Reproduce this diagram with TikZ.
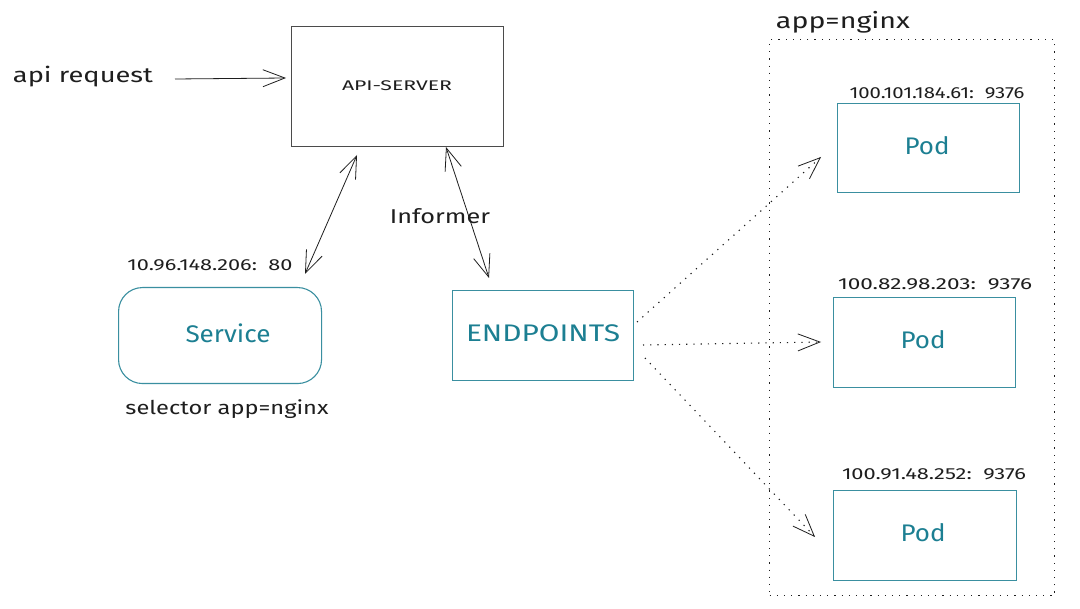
\documentclass[tikz,border=0pt]{standalone}
\usepackage{fontspec}
\setmainfont{Fira Sans}
\usetikzlibrary{arrows.meta}
\definecolor{teal1}{HTML}{1C7F92}
\definecolor{teal2}{HTML}{3A8FA0}
\definecolor{ink}{HTML}{1E1E1E}
\newcommand\sw[2]{\resizebox{#1}{\height}{#2}}
\tikzset{
  lbl/.style={text=ink, inner sep=0pt, anchor=center},
  gbox/.style={draw=ink!80, line width=0.8pt},
  tbox/.style={draw=teal2, line width=1.1pt},
  ttxt/.style={text=teal1, inner sep=0pt, anchor=center, font=\fontsize{24}{28}\selectfont},
  ip/.style={lbl, font=\fontsize{16}{18}\selectfont},
  barb/.style={-{Straight Barb[length=22pt,width=17pt,line width=0.8pt]}},
  bbarb/.style={{Straight Barb[length=22pt,width=17pt,line width=0.8pt]}-{Straight Barb[length=22pt,width=17pt,line width=0.8pt]}},
  dotline/.style={dash pattern=on 1.2pt off 6pt, line width=1.1pt, draw=ink},
}
\begin{document}
\begin{tikzpicture}[x=1pt,y=-1pt]
\useasboundingbox (0,0) rectangle (1080,609);
\fill[white] (0,0) rectangle (1080,609);

% API server
\node[gbox, minimum width=212pt, minimum height=120pt, anchor=north west] (api) at (291,26) {};
\node[lbl, font=\fontsize{14}{16}\selectfont] (apit) at (397,86) {\sw{110pt}{API-SERVER}};

% api request
\node[lbl, font=\fontsize{21}{25}\selectfont] (req) at (83,77) {\sw{140pt}{api request}};
\coordinate (reqs) at (175,79);
\coordinate (reqe) at (286,78);
\draw[barb, ink, line width=0.8pt] (reqs) -- (reqe);

% Service
\node[tbox, rounded corners=24pt, minimum width=203pt, minimum height=96pt, anchor=north west] (svc) at (118,287) {};
\node[ttxt] (svct) at (228,333) {\sw{85pt}{Service}};
\node[ip] (svcip) at (210,265) {\sw{165pt}{10.96.148.206:\ \ 80}};
\node[lbl, font=\fontsize{19}{22}\selectfont] (sel) at (227,409) {\sw{203pt}{selector app=nginx}};

% Endpoints
\node[tbox, minimum width=181pt, minimum height=90pt, anchor=north west] (ep) at (452,290) {};
\node[ttxt] (ept) at (543,333) {\sw{154pt}{ENDPOINTS}};

% double arrows
\coordinate (a1t) at (357,155);
\coordinate (a1b) at (305,274);
\draw[bbarb, ink, line width=0.8pt] (a1b) -- (a1t);
\coordinate (a2t) at (446,147);
\coordinate (a2b) at (489,278);
\draw[bbarb, ink, line width=0.8pt] (a2t) -- (a2b);
\node[lbl, font=\fontsize{20}{23}\selectfont] (inf) at (440,216) {\sw{100pt}{Informer}};

% group
\node[dotline, draw, minimum width=285pt, minimum height=556pt, anchor=north west] (grp) at (769,39) {};
\node[lbl, font=\fontsize{22}{26}\selectfont] (grpt) at (843,22) {\sw{134pt}{app=nginx}};

% pods
\node[tbox, minimum width=182pt, minimum height=89pt, anchor=north west] (p1) at (837,103) {};
\node[ttxt] (p1t) at (927,146) {\sw{45pt}{Pod}};
\node[ip] (p1ip) at (937,93) {\sw{175pt}{100.101.184.61:\ \ 9376}};

\node[tbox, minimum width=182pt, minimum height=90pt, anchor=north west] (p2) at (833,297) {};
\node[ttxt] (p2t) at (923,340) {\sw{45pt}{Pod}};
\node[ip] (p2ip) at (935,284) {\sw{194pt}{100.82.98.203:\ \ 9376}};

\node[tbox, minimum width=183pt, minimum height=90pt, anchor=north west] (p3) at (833,490) {};
\node[ttxt] (p3t) at (923,533) {\sw{45pt}{Pod}};
\node[ip] (p3ip) at (934,474) {\sw{184pt}{100.91.48.252:\ \ 9376}};

% dotted arrows
\coordinate (d1s) at (637,322);
\coordinate (d1e) at (821,157);
\coordinate (d2s) at (643,345);
\coordinate (d2e) at (821,342);
\coordinate (d3s) at (645,358);
\coordinate (d3e) at (815,537);
\draw[dotline, barb] (d1s) -- (d1e);
\draw[dotline, barb] (d2s) -- (d2e);
\draw[dotline, barb] (d3s) -- (d3e);
\end{tikzpicture}
\end{document}
